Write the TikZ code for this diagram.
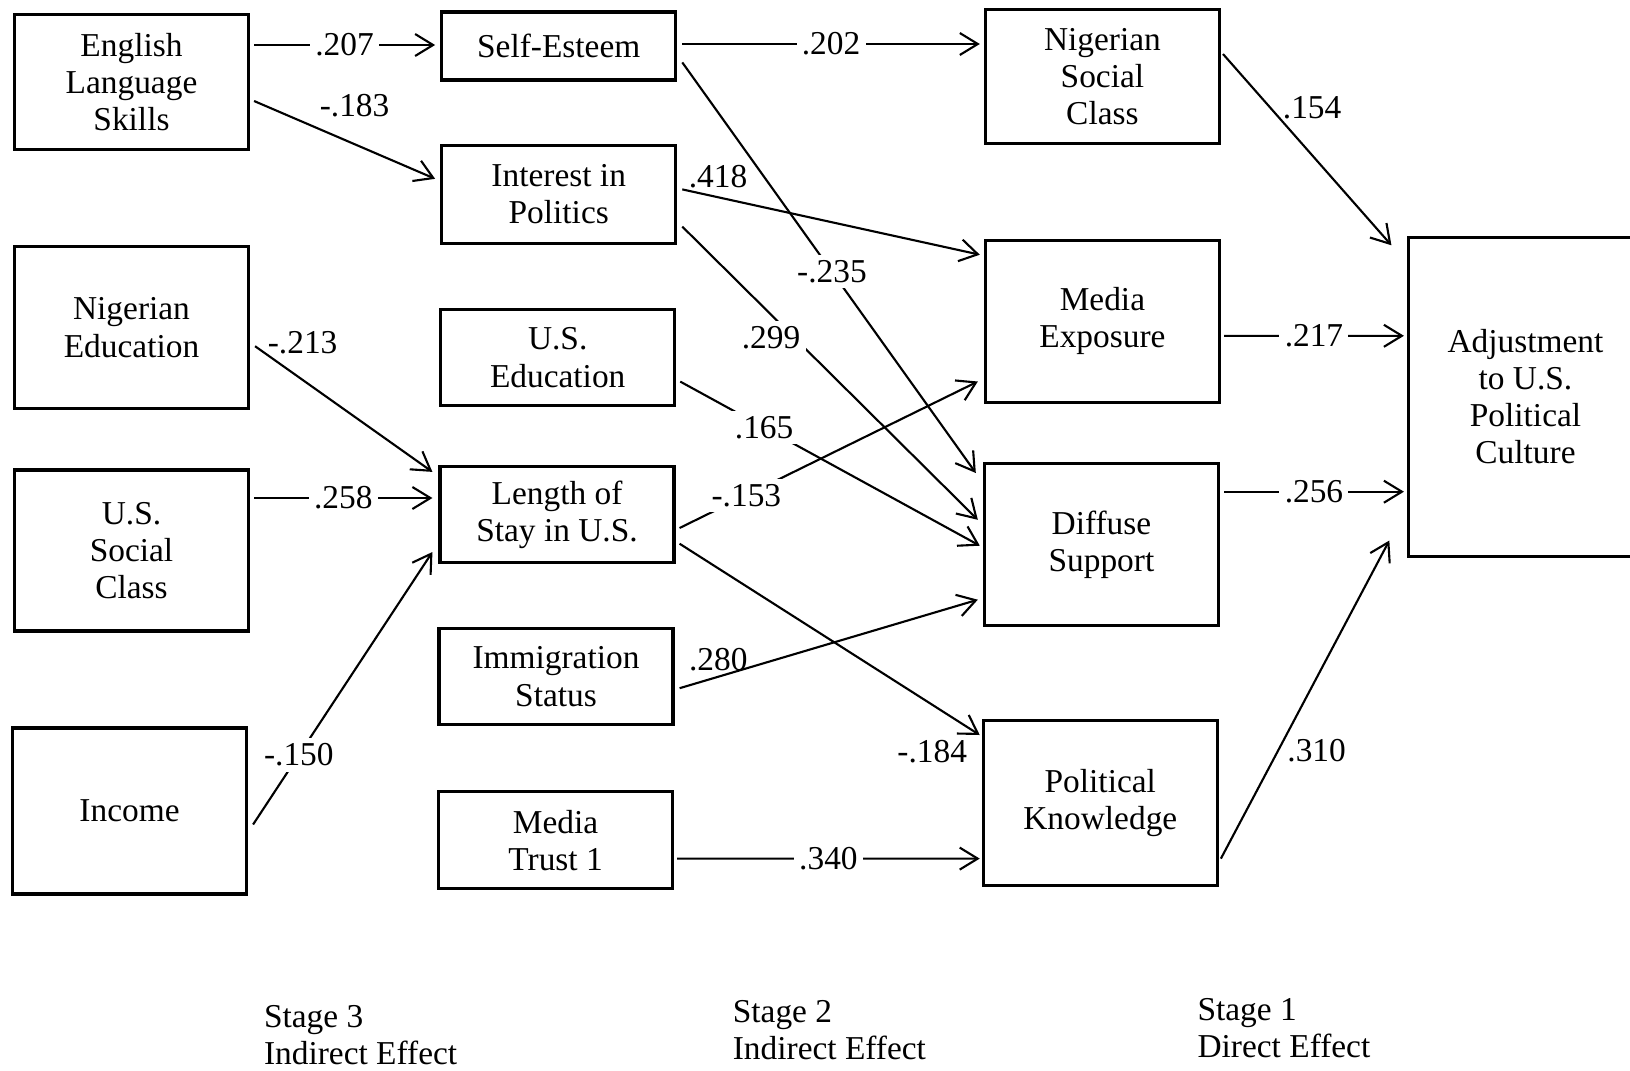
\documentclass[tikz,border=0pt]{standalone}
\usepackage{fontspec}
\setmainfont{Liberation Serif}
\usetikzlibrary{arrows.meta}

\begin{document}
\begin{tikzpicture}[x=0.1mm,y=-0.1mm,
    font=\fontsize{9.5}{10.6}\selectfont,
    >={Straight Barb[length=1.8mm,width=2.2mm]},
    line width=0.6pt,
    box/.style={draw,line width=0.9pt,align=center,minimum width=23.4mm,inner sep=2pt},
    lbl/.style={fill=white,inner sep=1.5pt},
    stage/.style={anchor=west,align=left,inner sep=0pt}]

\useasboundingbox (0,0) rectangle (1630,1070);

% Stage 3 variables
\node[box,minimum height=13.5mm] (english) at (131.5,82) {English\\Language\\Skills};
\node[box,minimum height=16.2mm] (nigedu) at (131.5,327.5) {Nigerian\\Education};
\node[box,minimum height=16.1mm] (ussocial) at (131.5,550.5) {U.S.\\Social\\Class};
\node[box,minimum height=16.6mm] (income) at (129.5,811) {Income};

% Stage 2 variables
\node[box,minimum height=6.8mm] (selfest) at (558.7,46) {Self-Esteem};
\node[box,minimum height=9.8mm] (interest) at (558.7,194.4) {Interest in\\Politics};
\node[box,minimum height=9.6mm] (usedu) at (557.7,357.6) {U.S.\\Education};
\node[box,minimum height=9.6mm] (length) at (557,514.5) {Length of\\Stay in U.S.};
\node[box,minimum height=9.6mm] (immig) at (556,676.7) {Immigration\\Status};
\node[box,minimum height=9.7mm] (mtrust) at (555.6,840.4) {Media\\Trust 1};

% Stage 1 variables
\node[box,minimum height=13.4mm] (nigsocial) at (1102.4,76.4) {Nigerian\\Social\\Class};
\node[box,minimum height=16.2mm] (mediaexp) at (1102.4,321.2) {Media\\Exposure};
\node[box,minimum height=16.2mm] (diffuse) at (1101.4,544.7) {Diffuse\\Support};
\node[box,minimum height=16.5mm] (polknow) at (1100.3,803) {Political\\Knowledge};

% Outcome
\node[box,minimum height=31.9mm] (adjust) at (1525.5,396.6) {Adjustment\\to U.S.\\Political\\Culture};

% Stage 3 -> Stage 2
\draw[->] ([shift={(4,-37)}]english.east) -- node[lbl] {.207} ([shift={(-5,-1)}]selfest.west);
\draw[->] ([shift={(4,19)}]english.east) -- node[above=3pt,xshift=1mm] {-.183} ([shift={(-5,-15.6)}]interest.west);
\draw[->] ([shift={(5,18.7)}]nigedu.east) -- node[pos=0,anchor=west,yshift=1pt] {-.213} ([shift={(-6,-42.6)}]length.west);
\draw[->] ([shift={(4,-52.5)}]ussocial.east) -- node[lbl] {.258} ([shift={(-6,-16.5)}]length.west);
\draw[->] ([shift={(5,13.5)}]income.east) -- node[lbl,pos=.255] {-.150} ([shift={(-6,37.5)}]length.west);

% Stage 2 -> Stage 1
\draw[->] ([shift={(5,-2)}]selfest.east) -- node[lbl] {.202} ([shift={(-4,-32.4)}]nigsocial.west);
\draw[->] ([shift={(5,16.4)}]selfest.east) -- node[lbl,pos=.51] {-.235} ([shift={(-7,-71.7)}]diffuse.west);
\draw[->] ([shift={(5,-5)}]interest.east) -- node[pos=.12,above,yshift=-1pt] {.418} ([shift={(-4,-66.5)}]mediaexp.west);
\draw[->] ([shift={(5,32.2)}]interest.east) -- node[lbl,pos=.38,anchor=east,xshift=1.2mm] {.299} ([shift={(-5,-24.9)}]diffuse.west);
\draw[->] ([shift={(4,24)}]usedu.east) -- node[lbl,pos=.28] {.165} ([shift={(-3,1)}]diffuse.west);
\draw[->] ([shift={(4,13.5)}]length.east) -- node[lbl,pos=.224] {-.153} ([shift={(-6,60.3)}]mediaexp.west);
\draw[->] ([shift={(4,29.2)}]length.east) -- node[pos=1,anchor=north east,yshift=2pt] {-.184} ([shift={(-2,-68)}]polknow.west);
\draw[->] ([shift={(5,11.5)}]immig.east) -- node[pos=.13,above,yshift=-2pt] {.280} ([shift={(-5,55)}]diffuse.west);
\draw[->] ([shift={(3,18.2)}]mtrust.east) -- node[lbl] {.340} ([shift={(-2,55.6)}]polknow.west);

% Stage 1 -> outcome
\draw[->] ([shift={(2,-22.4)}]nigsocial.east) -- node[pos=.28,anchor=west] {.154} ([shift={(-15.5,-151.3)}]adjust.west);
\draw[->] ([shift={(3,14.6)}]mediaexp.east) -- node[lbl] {.217} ([shift={(-3,-60.8)}]adjust.west);
\draw[->] ([shift={(4,-53)}]diffuse.east) -- node[lbl] {.256} ([shift={(-3,95.1)}]adjust.west);
\draw[->] ([shift={(2,55.6)}]polknow.east) -- node[pos=.34,anchor=west,xshift=-1pt] {.310} ([shift={(-17.6,143.9)}]adjust.west);

% Stage captions
\node[stage] (stage3) at (263,1035) {Stage 3\\Indirect Effect};
\node[stage] (stage2) at (731.8,1030) {Stage 2\\Indirect Effect};
\node[stage] (stage1) at (1196.5,1028) {Stage 1\\Direct Effect};
\end{tikzpicture}
\end{document}
